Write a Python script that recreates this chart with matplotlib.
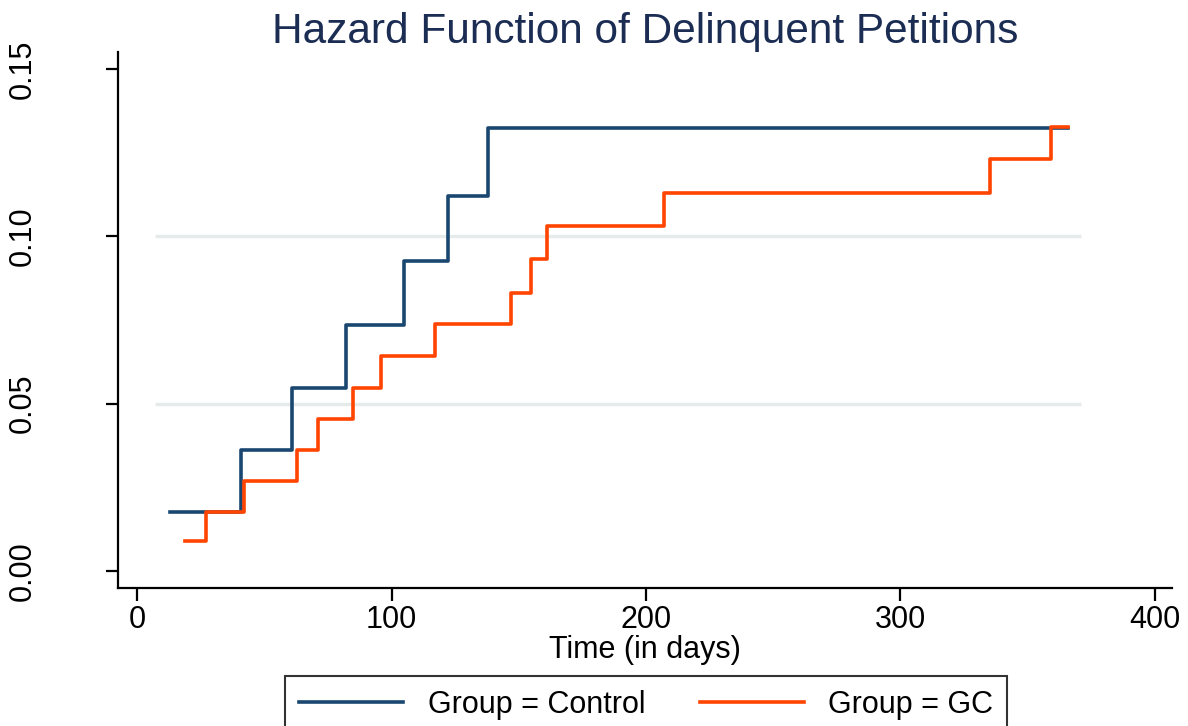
import matplotlib
matplotlib.use("Agg")
import matplotlib.pyplot as plt

plt.rcParams['font.family'] = ['Liberation Sans', 'DejaVu Sans']

# step hazard estimates (time in days, hazard)
control_t = [13, 41, 61, 82, 105, 122, 138, 366]
control_h = [0.0176, 0.0361, 0.0546, 0.0734, 0.0925, 0.1120, 0.1325, 0.1325]

gc_t = [19, 27, 42, 63, 71, 85, 96, 117, 147, 155, 161, 207, 335, 359, 366]
gc_h = [0.0090, 0.0176, 0.0269, 0.0361, 0.0454, 0.0546, 0.0642, 0.0737,
        0.0830, 0.0931, 0.1030, 0.1128, 0.1230, 0.1328, 0.1328]

x_ticks = [0, 100, 200, 300, 400]
y_ticks = [0.00, 0.05, 0.10, 0.15]
grid_y = [0.05, 0.10]

navy = '#1a476f'
orange = '#ff4500'

fig = plt.figure(figsize=(11.88, 7.26), dpi=100)
ax = fig.add_axes([0.0993, 0.190, 0.8872, 0.738])

# Stata-style gridlines that stop short of the axes
ax.hlines(grid_y, 7, 371, color='#e6eaea', lw=2.5, zorder=1)

ax.step(control_t, control_h, where='post', color=navy, lw=2.6,
        label='Group = Control', zorder=3)
ax.step(gc_t, gc_h, where='post', color=orange, lw=2.6,
        label='Group = GC', zorder=3)

ax.set_xlim(-7.5, 406.7)
ax.set_ylim(-0.0051, 0.155)

ax.set_xticks(x_ticks)
ax.set_xticklabels([str(v) for v in x_ticks])
ax.set_yticks(y_ticks)
ax.set_yticklabels(['%.2f' % v for v in y_ticks], rotation=90, va='center')

for side in ['top', 'right']:
    ax.spines[side].set_visible(False)
for side in ['left', 'bottom']:
    ax.spines[side].set_linewidth(1.6)

ax.tick_params(axis='both', direction='out', length=9, width=1.6, labelsize=22)
ax.tick_params(axis='x', pad=3)
ax.tick_params(axis='y', pad=49)

ax.set_xlabel('Time (in days)', fontsize=22, labelpad=0)
ax.set_title('Hazard Function of Delinquent Petitions', fontsize=30.5,
             color='#1c2d54', pad=4)

leg = fig.legend(loc='upper center', bbox_to_anchor=(0.544, 0.069), ncol=2,
                 fontsize=22, frameon=True, fancybox=False, handlelength=3.4,
                 columnspacing=1.8, borderpad=0.45, borderaxespad=0)
leg.get_frame().set_edgecolor('black')
leg.get_frame().set_linewidth(1.5)

fig.savefig('out.png', dpi=100)
